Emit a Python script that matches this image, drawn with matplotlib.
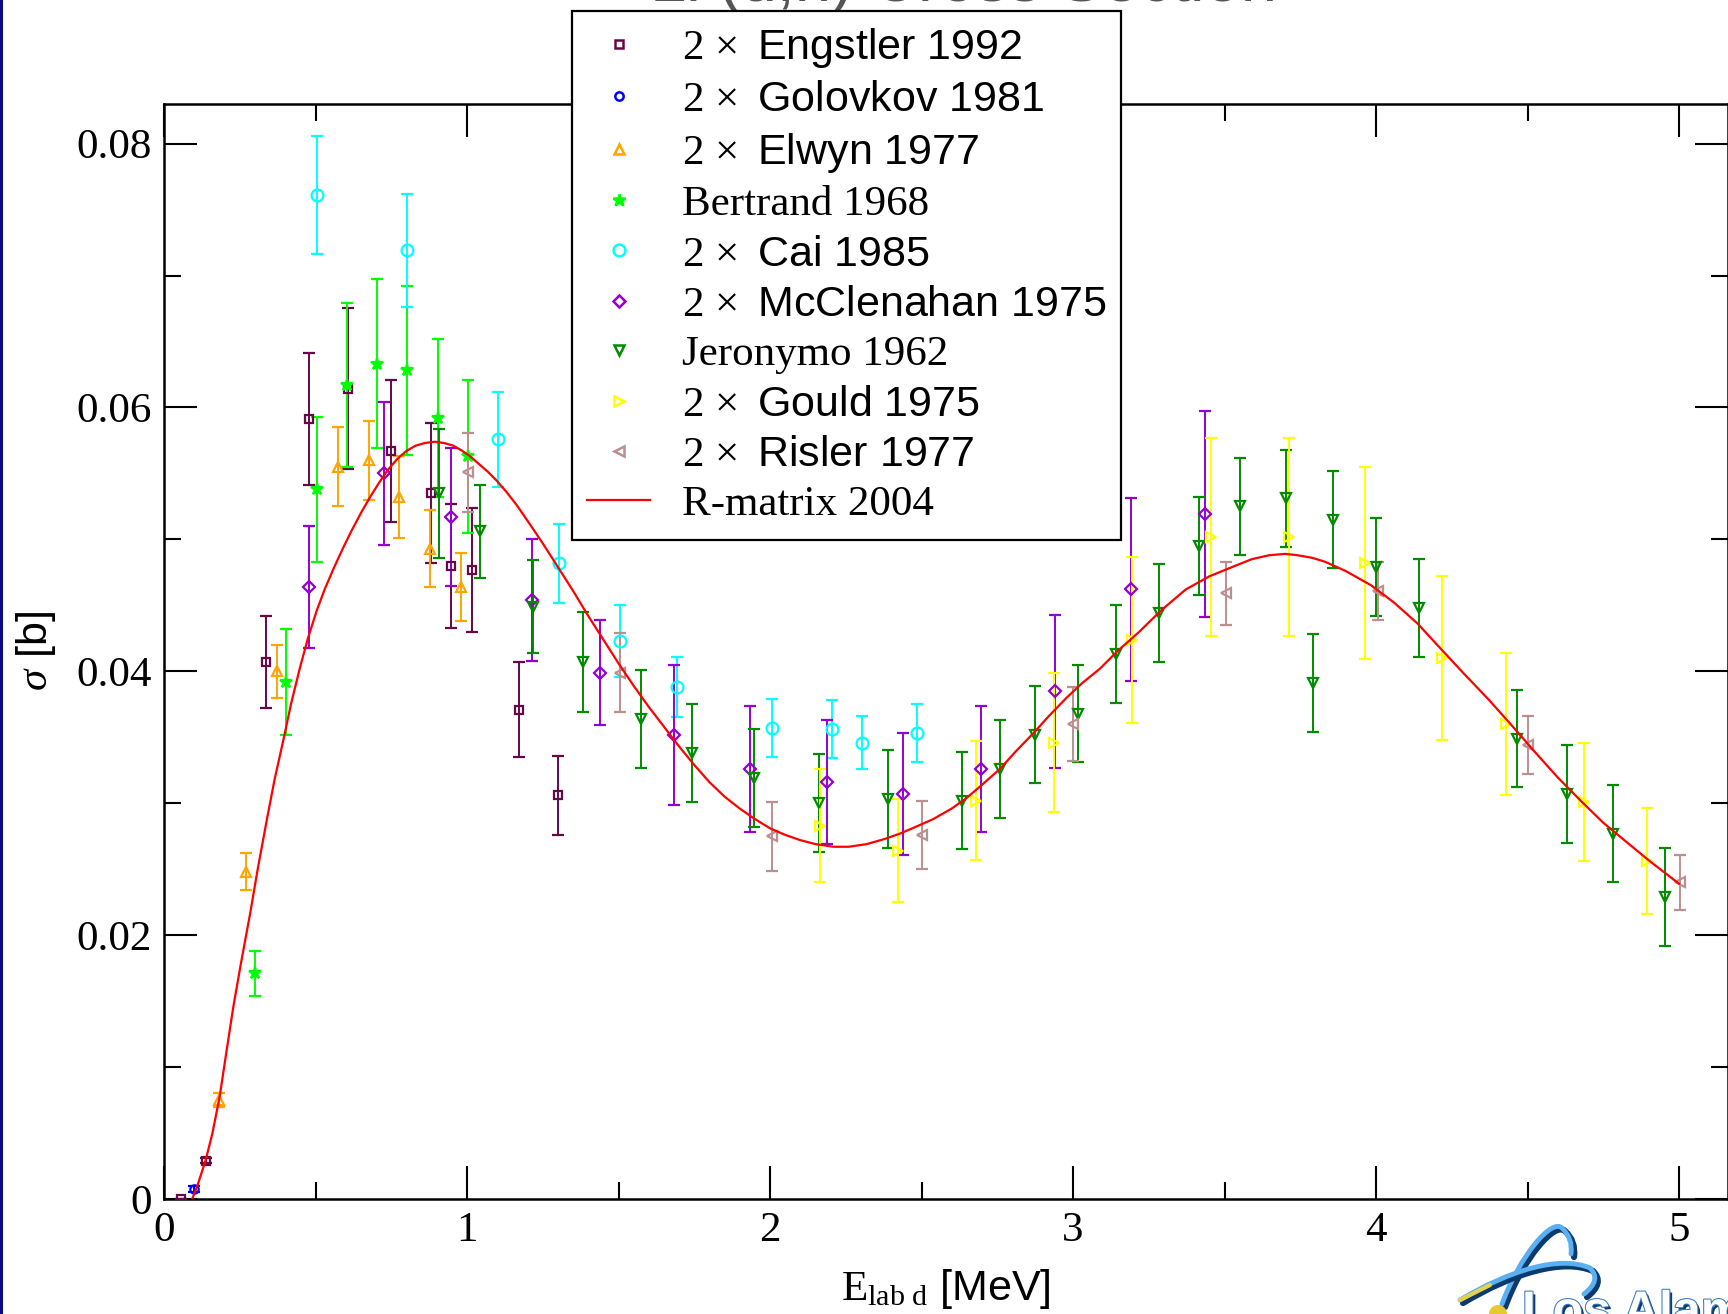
import matplotlib
matplotlib.use("Agg")
import matplotlib.pyplot as plt
import matplotlib.patheffects as pe
from matplotlib.lines import Line2D
from matplotlib.patches import Rectangle, PathPatch, Circle
from matplotlib.path import Path

plt.rcParams['mathtext.fontset'] = 'custom'
plt.rcParams['mathtext.rm'] = 'Liberation Serif'
plt.rcParams['mathtext.it'] = 'Liberation Serif:italic'

SERIF = 'Liberation Serif'
SANS = 'Liberation Sans'

# Li(d,n) cross section data: deuteron lab energy [MeV], sigma [b], error [b]
engstler_e = [0.056, 0.137, 0.336, 0.479, 0.606, 0.749, 0.880, 0.947, 1.016, 1.170, 1.301]
engstler_s = [0.0000, 0.0029, 0.0407, 0.0591, 0.0614, 0.0567, 0.0535, 0.0480, 0.0477, 0.0371, 0.0306]
engstler_d = [0.0, 0.0002, 0.0035, 0.0050, 0.0061, 0.0054, 0.0053, 0.0047, 0.0047, 0.0036, 0.0030]

golovkov_e = [0.100]
golovkov_s = [0.00076]
golovkov_d = [0.0002]

elwyn_e = [0.182, 0.270, 0.372, 0.573, 0.676, 0.775, 0.878, 0.979]
elwyn_s = [0.0075, 0.0248, 0.0400, 0.0555, 0.0560, 0.0532, 0.0493, 0.0464]
elwyn_d = [0.0005, 0.0014, 0.0020, 0.0030, 0.0030, 0.0031, 0.0029, 0.0026]

bertrand_e = [0.301, 0.403, 0.504, 0.603, 0.702, 0.803, 0.903, 1.004]
bertrand_s = [0.0171, 0.0392, 0.0538, 0.0617, 0.0633, 0.0628, 0.0592, 0.0563]
bertrand_d = [0.0017, 0.0040, 0.0055, 0.0062, 0.0064, 0.0064, 0.0060, 0.0058]

cai_e = [0.504, 0.803, 1.103, 1.305, 1.505, 1.692, 2.005, 2.204, 2.305, 2.484]
cai_s = [0.0761, 0.0719, 0.0576, 0.0482, 0.0423, 0.0388, 0.0357, 0.0356, 0.0346, 0.0353]
cai_d = [0.0045, 0.0043, 0.0036, 0.0030, 0.0027, 0.0023, 0.0022, 0.0022, 0.0020, 0.0022]

mcclen_e = [0.480, 0.727, 0.947, 1.214, 1.439, 1.683, 1.934, 2.189, 2.440, 2.696, 2.941, 3.191, 3.436]
mcclen_s = [0.0464, 0.0550, 0.0517, 0.0454, 0.0399, 0.0352, 0.0326, 0.0316, 0.0307, 0.0326, 0.0385, 0.0462, 0.0519]
mcclen_d = [0.0046, 0.0054, 0.0052, 0.0046, 0.0040, 0.0053, 0.0048, 0.0047, 0.0046, 0.0048, 0.0058, 0.0069, 0.0078]

jeron_e = [0.909, 1.043, 1.219, 1.384, 1.573, 1.743, 1.948, 2.162, 2.388, 2.633, 2.759, 2.875, 3.018,
           3.142, 3.284, 3.415, 3.551, 3.704, 3.793, 3.859, 4.000, 4.141, 4.464, 4.631, 4.781, 4.955]
jeron_s = [0.0535, 0.0506, 0.0449, 0.0407, 0.0364, 0.0338, 0.0319, 0.0300, 0.0303, 0.0302, 0.0326, 0.0352, 0.0368,
           0.0413, 0.0444, 0.0495, 0.0525, 0.0531, 0.0391, 0.0515, 0.0479, 0.0448, 0.0349, 0.0307, 0.0277, 0.0229]
jeron_d = [0.0049, 0.0035, 0.0035, 0.0038, 0.0037, 0.0037, 0.0037, 0.0037, 0.0037, 0.0037, 0.0037, 0.0037, 0.0037,
           0.0037, 0.0037, 0.0037, 0.0037, 0.0037, 0.0037, 0.0037, 0.0037, 0.0037, 0.0037, 0.0037, 0.0037, 0.0037]

gould_e = [2.165, 2.424, 2.680, 2.937, 3.196, 3.456, 3.712, 3.965, 4.218, 4.429, 4.685, 4.893]
gould_s = [0.0283, 0.0264, 0.0302, 0.0346, 0.0424, 0.0502, 0.0502, 0.0482, 0.0410, 0.0360, 0.0301, 0.0256]
gould_d = [0.0043, 0.0039, 0.0045, 0.0053, 0.0063, 0.0075, 0.0075, 0.0073, 0.0062, 0.0054, 0.0045, 0.0040]

risler_e = [1.004, 1.505, 2.005, 2.503, 3.001, 3.505, 4.005, 4.501, 5.004]
risler_s = [0.0551, 0.0399, 0.0275, 0.0276, 0.0360, 0.0459, 0.0461, 0.0344, 0.0240]
risler_d = [0.0030, 0.0030, 0.0026, 0.0026, 0.0028, 0.0024, 0.0022, 0.0022, 0.0021]

# R-matrix fit
rmat_e = [0.093, 0.110, 0.137, 0.160, 0.184, 0.205, 0.229, 0.255, 0.284, 0.310, 0.339, 0.365,
          0.394, 0.420, 0.449, 0.475, 0.504, 0.530, 0.560, 0.590, 0.620, 0.650, 0.680, 0.710,
          0.740, 0.770, 0.800, 0.830, 0.860, 0.894, 0.925, 0.955, 0.985, 1.010, 1.040, 1.070,
          1.100, 1.130, 1.164, 1.200, 1.250, 1.300, 1.350, 1.400, 1.450, 1.500, 1.550, 1.600,
          1.650, 1.700, 1.750, 1.800, 1.850, 1.900, 1.950, 2.000, 2.050, 2.100, 2.150, 2.209,
          2.260, 2.319, 2.380, 2.429, 2.480, 2.539, 2.600, 2.649, 2.700, 2.759, 2.810, 2.869,
          2.920, 2.979, 3.030, 3.089, 3.150, 3.219, 3.290, 3.372, 3.450, 3.525, 3.590, 3.648,
          3.700, 3.740, 3.790, 3.832, 3.900, 3.985, 4.060, 4.138, 4.210, 4.291, 4.370, 4.444,
          4.520, 4.598, 4.675, 4.751, 4.830, 4.904, 5.000]
rmat_s = [0.0000, 0.0010, 0.0029, 0.0050, 0.0078, 0.0110, 0.0146, 0.0180, 0.0216, 0.0251, 0.0287, 0.0318,
          0.0348, 0.0376, 0.0403, 0.0425, 0.0446, 0.0462, 0.0478, 0.0493, 0.0507, 0.0520, 0.0532, 0.0543,
          0.0553, 0.0561, 0.0567, 0.0571, 0.0573, 0.0574, 0.0573, 0.0571, 0.0567, 0.0563, 0.0557, 0.0551,
          0.0544, 0.0536, 0.0526, 0.0514, 0.0497, 0.0479, 0.0461, 0.0442, 0.0424, 0.0406, 0.0389, 0.0373,
          0.0358, 0.0343, 0.0329, 0.0316, 0.0305, 0.0296, 0.0288, 0.0281, 0.0276, 0.0272, 0.0269, 0.0267,
          0.0267, 0.0269, 0.0273, 0.0277, 0.0282, 0.0288, 0.0296, 0.0304, 0.0314, 0.0326, 0.0339, 0.0353,
          0.0366, 0.0380, 0.0391, 0.0402, 0.0416, 0.0430, 0.0446, 0.0462, 0.0472, 0.0479, 0.0485, 0.0488,
          0.0489, 0.0488, 0.0486, 0.0483, 0.0476, 0.0465, 0.0452, 0.0436, 0.0418, 0.0398, 0.0379, 0.0360,
          0.0340, 0.0320, 0.0302, 0.0285, 0.0270, 0.0256, 0.0239]

x_ticks = [0, 1, 2, 3, 4, 5]
x_labels = ['0', '1', '2', '3', '4', '5']
y_ticks = [0, 0.02, 0.04, 0.06, 0.08]
y_labels = ['0', '0.02', '0.04', '0.06', '0.08']

TWO = r"$2\,\times$ "
# label, serif-only label?, marker, color, size, filled, data
series = [
    (TWO + "Engstler 1992", False, 's', '#670748', 6, False, engstler_e, engstler_s, engstler_d),
    (TWO + "Golovkov 1981", False, 'o', '#0000ff', 6, False, golovkov_e, golovkov_s, golovkov_d),
    (TWO + "Elwyn 1977", False, '^', '#ffa500', 7, False, elwyn_e, elwyn_s, elwyn_d),
    ("Bertrand 1968", True, '*', '#00ff00', 9, True, bertrand_e, bertrand_s, bertrand_d),
    (TWO + "Cai 1985", False, 'o', '#00ffff', 8.5, False, cai_e, cai_s, cai_d),
    (TWO + "McClenahan 1975", False, 'D', '#9400d3', 6, False, mcclen_e, mcclen_s, mcclen_d),
    ("Jeronymo 1962", True, 'v', '#008b00', 7, False, jeron_e, jeron_s, jeron_d),
    (TWO + "Gould 1975", False, '>', '#ffff00', 7, False, gould_e, gould_s, gould_d),
    (TWO + "Risler 1977", False, '<', '#bc8f8f', 7, False, risler_e, risler_s, risler_d),
]

W, H = 1728, 1314
fig = plt.figure(figsize=(W / 100, H / 100), dpi=100, facecolor='white')
ax = fig.add_axes([164 / W, 1 - 1199 / H, (1727.5 - 164) / W, (1199 - 104) / H])

handles = []
for label, serif, mk, col, ms, filled, e, s, d in series:
    ax.errorbar(e, s, yerr=d, fmt=mk, color=col, ms=ms, mfc=col if filled else 'none',
                mec=col, mew=1.6, elinewidth=1.4, capsize=4, capthick=1.4, zorder=3)
    handles.append(Line2D([], [], ls='none', marker=mk, color=col, ms=ms,
                          mfc=col if filled else 'none', mec=col, mew=1.8))

ax.plot(rmat_e, rmat_s, color='#ff0000', lw=1.6, zorder=4)
handles.append(Line2D([], [], color='#ff0000', lw=1.6))
labels = [s[0] for s in series] + ["R-matrix 2004"]
serif_flags = [s[1] for s in series] + [True]

ax.set_xlim(0, (1727.5 - 164) / 303)
ax.set_ylim(0, 0.083)
ax.set_xticks(x_ticks)
ax.set_xticklabels(x_labels)
ax.set_yticks(y_ticks)
ax.set_yticklabels(y_labels)
ax.set_xticks([0.5, 1.5, 2.5, 3.5, 4.5], minor=True)
ax.set_yticks([0.01, 0.03, 0.05, 0.07], minor=True)
ax.tick_params(which='both', direction='in', top=True, right=True, width=1.5)
ax.tick_params(which='major', length=24, labelsize=31, pad=9)
ax.tick_params(which='minor', length=12)
for t in ax.get_xticklabels() + ax.get_yticklabels():
    t.set_fontfamily(SERIF)
for sp in ax.spines.values():
    sp.set_linewidth(1.8)

ax.set_xlabel(r"$\mathrm{E_{lab\ d}}$ [MeV]", fontsize=31, family=SANS, labelpad=12)
ax.set_ylabel(r"$\sigma$ [b]", fontsize=31, family=SANS, labelpad=13)

leg = fig.legend(handles, labels, loc='upper left', bbox_to_anchor=(572 / W, 1 - 11 / H),
                 borderaxespad=0, handlelength=1.46, handletextpad=0.74,
                 borderpad=0.35, labelspacing=0.24, fancybox=False, framealpha=1,
                 edgecolor='black', prop={'family': SANS, 'size': 31})
leg.get_frame().set_linewidth(1.6)
for t, serif in zip(leg.get_texts(), serif_flags):
    if serif:
        t.set_fontfamily(SERIF)

fig.text(964 / W, 1 - 0.5 / H, "Li (d,n) Cross Section", ha='center', va='baseline',
         fontsize=47, family=SANS, color='#555555')

# page decorations: left border and lab logo in pixel coordinates
deco = fig.add_axes([0, 0, 1, 1], zorder=10)
deco.set_xlim(0, W)
deco.set_ylim(H, 0)
deco.axis('off')
deco.add_patch(Rectangle((0, 0), 3, H, color='#0a0a80', lw=0))

arc_a = Path([(1502, 1304), (1520, 1255), (1552, 1218), (1562, 1228), (1573, 1238), (1571, 1254)],
             [Path.MOVETO, Path.CURVE4, Path.CURVE4, Path.CURVE4, Path.CURVE3, Path.CURVE3])
arc_b = Path([(1460, 1300), (1510, 1270), (1560, 1255), (1590, 1268), (1602, 1280), (1584, 1294)],
             [Path.MOVETO, Path.CURVE4, Path.CURVE4, Path.CURVE4, Path.CURVE3, Path.CURVE3])
for p in (arc_a, arc_b):
    shadow = Path(p.vertices + [3, 3], p.codes)
    deco.add_patch(PathPatch(shadow, fc='none', ec='#0b3a6e', lw=4.5, capstyle='round'))
    deco.add_patch(PathPatch(p, fc='none', ec='#5ab0f0', lw=3.5, capstyle='round'))
deco.plot([1460, 1490], [1300, 1285], color='#e6d24a', lw=3, solid_capstyle='round')
deco.add_patch(Circle((1498, 1314), 9, color='#e8c830', lw=0))
deco.text(1522, 1326, "Los Alamos", fontsize=36, family=SANS, weight='bold', color='white',
          va='baseline', ha='left',
          path_effects=[pe.withSimplePatchShadow(offset=(2, -2), shadow_rgbFace='#0b3a6e', alpha=1),
                        pe.withStroke(linewidth=1.5, foreground='#3a7ab8')])

fig.savefig('out.png', dpi=100, facecolor='white')
